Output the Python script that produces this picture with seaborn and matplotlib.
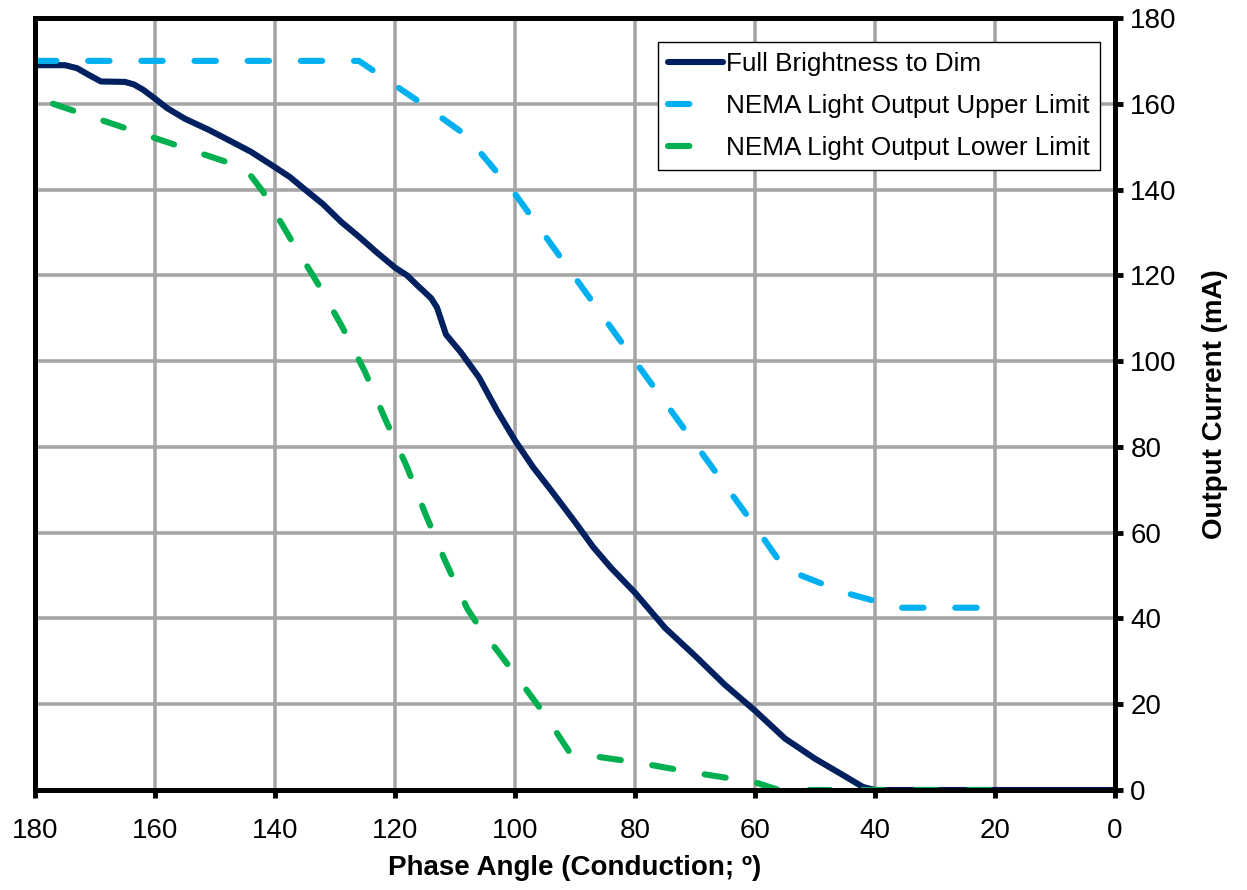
import numpy as np
import pandas as pd
import matplotlib
matplotlib.use("Agg")
import matplotlib.pyplot as plt
from matplotlib.lines import Line2D
import seaborn as sns

# ---- data ----
full_angle = [180, 175, 173, 171, 169, 165, 163.5, 162, 160, 158, 155, 151, 147, 144,
              140, 137.5, 135, 132, 129, 126, 123, 120, 118, 116, 114, 113, 111.5, 109,
              106, 103, 100, 97, 94, 90, 87, 84, 80, 75, 70, 65, 60, 55, 50, 45, 42,
              40, 30, 20, 10, 0]
full_current = [169, 169, 168.3, 166.7, 165.2, 165.1, 164.5, 163.3, 161.2, 159, 156.5,
                153.9, 151, 148.8, 145.2, 142.9, 140, 136.6, 132.5, 129, 125.3, 121.8,
                120, 117.3, 114.7, 112.5, 106.2, 102, 96.2, 88.5, 81.5, 75.3, 69.9, 62.5,
                56.7, 51.8, 46, 37.8, 31.3, 24.5, 18.5, 12, 7.3, 3.2, 0.7, 0, 0, 0, 0, 0]

upper_angle = [180, 126, 116, 109, 106, 100, 80, 60, 55, 45, 36, 18]
upper_current = [170, 170, 160.5, 153.5, 149, 139, 100, 61.5, 51.5, 46, 42.5, 42.5]

lower_angle = [177, 160, 145, 142, 137.5, 133, 128.8, 125, 121.7, 118, 115, 111.7, 108,
               105.5, 103, 100, 95, 91, 86, 80, 70, 60, 56, 40, 18]
lower_current = [160, 152, 145, 139.5, 128.7, 118.4, 108, 97.5, 86.7, 75.3, 64.6, 53.6,
                 42.4, 37, 32.6, 27, 17.5, 9, 7.7, 6.5, 4, 1.8, 0, 0, 0]

series_names = ["Full Brightness to Dim", "NEMA Light Output Upper Limit",
                "NEMA Light Output Lower Limit"]
series_colors = ["#002060", "#00B0F0", "#00B050"]

x_ticks = [180, 160, 140, 120, 100, 80, 60, 40, 20, 0]
y_ticks = [0, 20, 40, 60, 80, 100, 120, 140, 160, 180]

df = pd.concat([
    pd.DataFrame({"angle": full_angle, "current": full_current, "series": series_names[0]}),
    pd.DataFrame({"angle": upper_angle, "current": upper_current, "series": series_names[1]}),
    pd.DataFrame({"angle": lower_angle, "current": lower_current, "series": series_names[2]}),
], ignore_index=True)

# ---- style ----
sns.set_style("white")
plt.rcParams["font.family"] = ["Liberation Sans", "DejaVu Sans"]
for key in ["text.color", "axes.labelcolor", "xtick.color", "ytick.color"]:
    plt.rcParams[key] = "black"

fig = plt.figure(figsize=(12.47, 8.9), dpi=100)
ax = fig.add_axes([35 / 1247, 1 - 790 / 890, 1080 / 1247, 772 / 890])

LW = 4.4
DASH = (3.5, 5.2)
sns.lineplot(data=df, x="angle", y="current", hue="series", style="series",
             hue_order=series_names, style_order=series_names,
             palette=dict(zip(series_names, series_colors)),
             dashes={series_names[0]: "", series_names[1]: DASH,
                     series_names[2]: DASH},
             linewidth=LW, sort=False, estimator=None, legend=False, ax=ax)

for ln in ax.lines:
    ln.set_linewidth(LW)
    ln.set_dash_capstyle("round")
    ln.set_solid_capstyle("round")
    ln.set_solid_joinstyle("round")
    ln.set_dash_joinstyle("round")

ax.set_xlim(180, 0)
ax.set_ylim(0, 180)
ax.set_xticks(x_ticks)
ax.set_yticks(y_ticks)
ax.yaxis.tick_right()
ax.yaxis.set_label_position("right")

ax.grid(True, color="#A6A6A6", linewidth=2.6)
ax.set_axisbelow(True)

for sp in ax.spines.values():
    sp.set_visible(True)
    sp.set_color("black")
    sp.set_linewidth(3.6)

ax.tick_params(axis="x", direction="out", length=6, width=3.5, color="black",
               labelsize=20, labelcolor="black", pad=14, bottom=True)
ax.tick_params(axis="y", direction="out", length=6, width=3.5, color="black",
               labelsize=20, labelcolor="black", pad=5, right=True, left=False)

ax.set_xlabel("Phase Angle (Conduction; º)", fontsize=20, fontweight="bold",
              labelpad=8, color="black")
ax.set_ylabel("Output Current (mA)", fontsize=20, fontweight="bold",
              labelpad=18, color="black")

# legend proxies: single dash for the dashed series, as in the reference
proxies = [
    Line2D([], [], color=series_colors[0], linewidth=LW, solid_capstyle="round"),
    Line2D([], [], color=series_colors[1], linewidth=LW, dashes=(3.5, 20),
           dash_capstyle="round"),
    Line2D([], [], color=series_colors[2], linewidth=LW, dashes=(3.5, 20),
           dash_capstyle="round"),
]
leg = ax.legend(proxies, series_names, loc="upper right",
                bbox_to_anchor=(0.986, 0.969), fontsize=18.8, frameon=True,
                fancybox=False, edgecolor="black", framealpha=1,
                handlelength=2.1, handletextpad=0.1, labelspacing=0.68,
                borderpad=0.4, borderaxespad=0)
leg.get_frame().set_linewidth(1.0)
for t in leg.get_texts():
    t.set_color("black")

fig.savefig("out.png", dpi=100)
